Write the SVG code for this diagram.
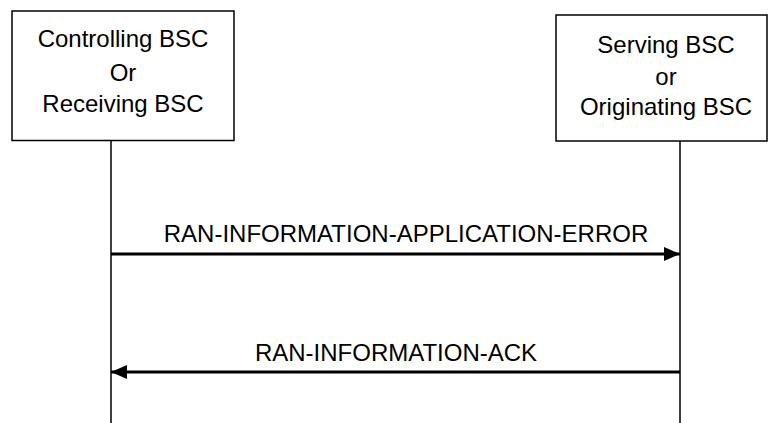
<svg xmlns="http://www.w3.org/2000/svg" width="768" height="423" viewBox="0 0 768 423">
<style>
.box{fill:#fff;stroke:#000;stroke-width:1.5}
.life{stroke:#000;stroke-width:1.5}
.msg{stroke:#000;stroke-width:3}
text{font-family:"Liberation Sans",Arial,sans-serif;font-size:24px;fill:#000;text-anchor:middle}
</style>
<defs>
<marker id="ah" markerWidth="16" markerHeight="14" refX="16" refY="7" orient="auto" markerUnits="userSpaceOnUse">
<path d="M0,0 L16,7 L0,14 Z" fill="#000"/>
</marker>
</defs>
<g id="controlling">
<rect class="box" x="12" y="11" width="222" height="129.5"/>
<text x="123" y="47">Controlling BSC</text>
<text x="123" y="81">Or</text>
<text x="123" y="112">Receiving BSC</text>
</g>
<g id="serving">
<rect class="box" x="556" y="15" width="211" height="126"/>
<text x="666" y="53">Serving BSC</text>
<text x="666" y="85">or</text>
<text x="666" y="115">Originating BSC</text>
</g>
<g id="connectors">
<line class="life" x1="111" y1="140.5" x2="111" y2="423"/>
<line class="life" x1="680" y1="141" x2="680" y2="423"/>
<line class="msg" x1="111" y1="254" x2="680" y2="254" marker-end="url(#ah)"/>
<text x="406" y="242">RAN-INFORMATION-APPLICATION-ERROR</text>
<line class="msg" x1="680" y1="372" x2="111" y2="372" marker-end="url(#ah)"/>
<text x="396" y="361">RAN-INFORMATION-ACK</text>
</g>
</svg>
